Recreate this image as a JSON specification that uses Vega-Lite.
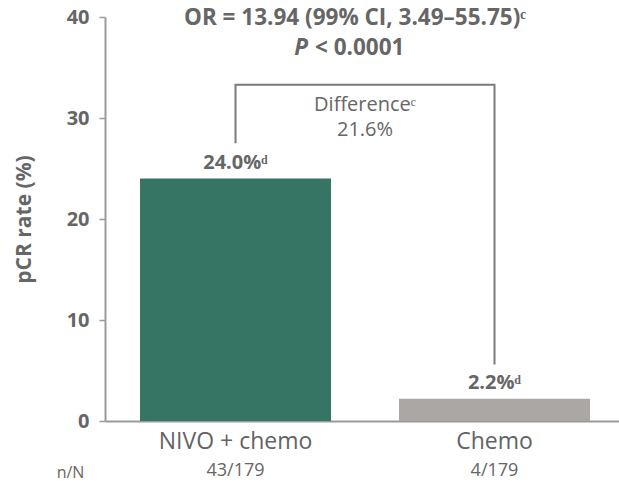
{
  "$schema": "https://vega.github.io/schema/vega-lite/v6.json",
  "autosize": "none",
  "width": 514,
  "height": 404,
  "padding": {"left": 105, "top": 17, "right": 0, "bottom": 60},
  "config": {"view": {"stroke": null}, "font": "Open Sans", "text": {"font": "Open Sans", "color": "#666666"}},
  "datasets": {
    "bars": [
      {"arm": "NIVO + chemo", "rate": 24.0, "label": "24.0%ᵈ", "nN": "43/179"},
      {"arm": "Chemo", "rate": 2.2, "label": "2.2%ᵈ", "nN": "4/179"}
    ],
    "bracket": [
      {"arm": "NIVO + chemo", "y": 27.5, "order": 1},
      {"arm": "NIVO + chemo", "y": 33.3, "order": 2},
      {"arm": "Chemo", "y": 33.3, "order": 3},
      {"arm": "Chemo", "y": 5.6, "order": 4}
    ]
  },
  "layer": [
    {
      "data": {"name": "bars"},
      "mark": {"type": "bar"},
      "encoding": {
        "x": {
          "field": "arm", "type": "nominal", "sort": ["NIVO + chemo", "Chemo"],
          "scale": {"domain": ["NIVO + chemo", "Chemo"], "paddingInner": 0.2625, "paddingOuter": 0.1236, "align": 0.547},
          "axis": {"orient": "bottom", "title": null, "labelAngle": 0, "ticks": false, "domainColor": "#9a9a9a", "domainWidth": 2,
                   "labelFontSize": 23, "labelColor": "#636363", "labelPadding": 9, "labelFont": "Open Sans", "labelFontWeight": 500}
        },
        "y": {
          "field": "rate", "type": "quantitative",
          "scale": {"domain": [0, 40]},
          "axis": {"values": [0, 10, 20, 30, 40], "grid": false, "domainColor": "#9a9a9a", "domainWidth": 2,
                   "tickColor": "#9a9a9a", "tickSize": 6, "tickWidth": 1.5, "labelFontSize": 20, "labelFontWeight": "bold",
                   "labelColor": "#666666", "labelPadding": 10, "labelFont": "Open Sans",
                   "title": "pCR rate (%)", "titleFontSize": 21, "titleFontWeight": "bold", "titleColor": "#666666",
                   "titleFont": "Open Sans", "titlePadding": 32}
        },
        "color": {
          "field": "arm", "type": "nominal",
          "scale": {"domain": ["NIVO + chemo", "Chemo"], "range": ["#367563", "#aba7a4"]},
          "legend": null
        }
      }
    },
    {
      "data": {"name": "bars"},
      "mark": {"type": "text", "baseline": "bottom", "dy": -6, "fontSize": 20, "fontWeight": "bold", "color": "#666666"},
      "encoding": {
        "x": {
          "field": "arm", "type": "nominal", "sort": ["NIVO + chemo", "Chemo"],
          "axis": {"orient": "bottom", "title": "n/N", "labelAngle": 0, "ticks": false, "domain": false,
                   "labelExpr": "datum.value == 'NIVO + chemo' ? '43/179' : '4/179'",
                   "labelFontSize": 18, "labelColor": "#666666", "labelPadding": 40, "labelFont": "Open Sans",
                   "titleX": -35, "titleY": 56, "titleFontSize": 16, "titleFontWeight": "normal", "titleColor": "#666666",
                   "titleBaseline": "alphabetic", "titleFont": "Open Sans"}
        },
        "y": {"field": "rate", "type": "quantitative"},
        "text": {"field": "label"}
      }
    },
    {
      "data": {"name": "bracket"},
      "mark": {"type": "line", "color": "#7a7a7a", "strokeWidth": 2},
      "encoding": {
        "x": {"field": "arm", "type": "nominal", "sort": ["NIVO + chemo", "Chemo"], "axis": null},
        "y": {"field": "y", "type": "quantitative"},
        "order": {"field": "order"}
      }
    },
    {
      "data": {"values": [{"arm": "NIVO + chemo", "y": 31.3, "t": "Differenceᶜ"}, {"arm": "NIVO + chemo", "y": 28.8, "t": "21.6%"}]},
      "mark": {"type": "text", "baseline": "middle", "fontSize": 20, "color": "#666666"},
      "encoding": {
        "x": {"field": "arm", "type": "nominal", "sort": ["NIVO + chemo", "Chemo"], "bandPosition": 1.178, "axis": null},
        "y": {"field": "y", "type": "quantitative"},
        "text": {"field": "t"}
      }
    },
    {
      "data": {"values": [{"arm": "NIVO + chemo", "y": 39.9, "t": "OR = 13.94 (99% CI, 3.49–55.75)ᶜ"}]},
      "mark": {"type": "text", "baseline": "middle", "fontSize": 22.5, "fontWeight": "bold", "color": "#666666"},
      "encoding": {
        "x": {"field": "arm", "type": "nominal", "sort": ["NIVO + chemo", "Chemo"], "bandPosition": 1.126, "axis": null},
        "y": {"field": "y", "type": "quantitative"},
        "text": {"field": "t"}
      }
    },
    {
      "data": {"values": [{"arm": "NIVO + chemo", "y": 36.9, "t": "P"}]},
      "mark": {"type": "text", "baseline": "middle", "align": "right", "fontSize": 22.5, "fontWeight": "bold", "fontStyle": "italic", "color": "#666666"},
      "encoding": {
        "x": {"field": "arm", "type": "nominal", "sort": ["NIVO + chemo", "Chemo"], "bandPosition": 0.88, "axis": null},
        "y": {"field": "y", "type": "quantitative"},
        "text": {"field": "t"}
      }
    },
    {
      "data": {"values": [{"arm": "NIVO + chemo", "y": 36.9, "t": "< 0.0001"}]},
      "mark": {"type": "text", "baseline": "middle", "align": "left", "fontSize": 22.5, "fontWeight": "bold", "color": "#666666"},
      "encoding": {
        "x": {"field": "arm", "type": "nominal", "sort": ["NIVO + chemo", "Chemo"], "bandPosition": 0.916, "axis": null},
        "y": {"field": "y", "type": "quantitative"},
        "text": {"field": "t"}
      }
    }
  ],
  "resolve": {"axis": {"x": "independent"}}
}
